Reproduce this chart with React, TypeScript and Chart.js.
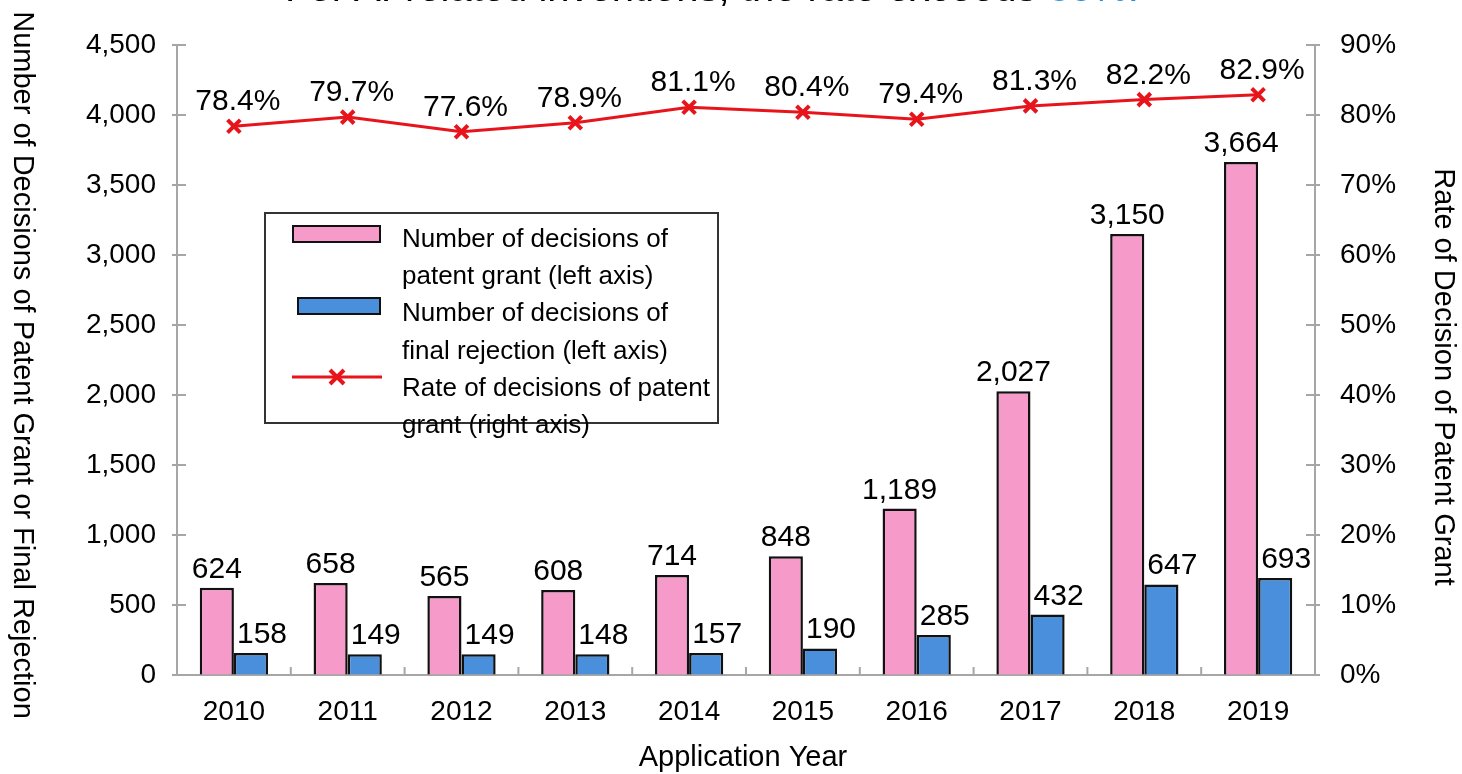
import React, { useEffect, useRef } from "react";
import { Chart, registerables } from "chart.js";

Chart.register(...registerables);

// ---------- data ----------
const years = ["2010", "2011", "2012", "2013", "2014", "2015", "2016", "2017", "2018", "2019"];
const grantCounts = [624, 658, 565, 608, 714, 848, 1189, 2027, 3150, 3664];
const rejectionCounts = [158, 149, 149, 148, 157, 190, 285, 432, 647, 693];
const grantRates = [78.4, 79.7, 77.6, 78.9, 81.1, 80.4, 79.4, 81.3, 82.2, 82.9];

const leftAxisRange = [0, 4500];
const leftAxisStep = 500;
const rightAxisRange = [0, 90];
const rightAxisStep = 10;

const legendGrant = ["Number of decisions of", "patent grant (left axis)"];
const legendRejection = ["Number of decisions of", "final rejection (left axis)"];
const legendRate = ["Rate of decisions of patent", "grant (right axis)"];

const titleMain = "For AI-related inventions, the rate exceeds ";
const titleHighlight = "80%.";
const leftAxisTitle = "Number of Decisions of Patent Grant or Final Rejection";
const rightAxisTitle = "Rate of Decision of Patent Grant";
const xAxisTitle = "Application Year";

// ---------- styles ----------
const FONT = '"Liberation Sans", Arial, Helvetica, sans-serif';
const PINK = "#f69ac9";
const BLUE = "#4a8fdc";
const RED = "#e8141c";
const AXIS_GRAY = "#a6a6a6";

const fmtCount = (v: number) => v.toLocaleString("en-US");

const drawCrossRot = (ctx: CanvasRenderingContext2D, x: number, y: number, r: number) => {
  ctx.beginPath();
  ctx.moveTo(x - r, y - r);
  ctx.lineTo(x + r, y + r);
  ctx.moveTo(x - r, y + r);
  ctx.lineTo(x + r, y - r);
  ctx.stroke();
};

const decorPlugin = {
  id: "decor",
  beforeDatasetsDraw(chart: any) {
    const { ctx, chartArea, scales } = chart;
    ctx.save();
    ctx.strokeStyle = AXIS_GRAY;
    ctx.lineWidth = 2;
    const y = scales.y;
    y.ticks.forEach((_t: any, i: number) => {
      const py = y.getPixelForTick(i);
      ctx.beginPath();
      ctx.moveTo(chartArea.left - 5, py);
      ctx.lineTo(chartArea.left + 9, py);
      ctx.stroke();
    });
    const y1 = scales.y1;
    y1.ticks.forEach((_t: any, i: number) => {
      const py = y1.getPixelForTick(i);
      ctx.beginPath();
      ctx.moveTo(chartArea.right - 9, py);
      ctx.lineTo(chartArea.right + 5, py);
      ctx.stroke();
    });
    const x = scales.x;
    for (let i = 0; i < years.length - 1; i++) {
      const px = (x.getPixelForTick(i) + x.getPixelForTick(i + 1)) / 2;
      ctx.beginPath();
      ctx.moveTo(px, chartArea.bottom);
      ctx.lineTo(px, chartArea.bottom - 8);
      ctx.stroke();
    }
    ctx.restore();
  },
  afterDatasetsDraw(chart: any) {
    const { ctx } = chart;
    ctx.save();
    ctx.fillStyle = "#000";
    ctx.textAlign = "center";
    ctx.textBaseline = "alphabetic";
    ctx.font = `30px ${FONT}`;
    chart.getDatasetMeta(0).data.forEach((el: any, i: number) => {
      ctx.fillText(grantRates[i].toFixed(1) + "%", el.x + 4, el.y - 16);
    });
    chart.getDatasetMeta(1).data.forEach((el: any, i: number) => {
      ctx.fillText(fmtCount(grantCounts[i]), el.x, el.y - 10);
    });
    chart.getDatasetMeta(2).data.forEach((el: any, i: number) => {
      ctx.fillText(fmtCount(rejectionCounts[i]), el.x + 11, el.y - 10);
    });
    ctx.restore();
  },
  afterDraw(chart: any) {
    const { ctx, chartArea, width } = chart;
    ctx.save();
    ctx.fillStyle = "#000";
    ctx.font = `29px ${FONT}`;
    ctx.textAlign = "center";
    ctx.textBaseline = "middle";
    ctx.save();
    ctx.translate(22, 365);
    ctx.rotate(Math.PI / 2);
    ctx.fillText(leftAxisTitle, 0, 0);
    ctx.restore();
    ctx.save();
    ctx.translate(width - 19, 377);
    ctx.rotate(Math.PI / 2);
    ctx.fillText(rightAxisTitle, 0, 0);
    ctx.restore();
    ctx.fillText(xAxisTitle, (chartArea.left + chartArea.right) / 2 - 3, 758);

    // legend
    const bx = chartArea.left + 88;
    const by = chartArea.top + 168;
    const bw = 453;
    const bh = 210;
    ctx.fillStyle = "#fff";
    ctx.fillRect(bx, by, bw, bh);
    ctx.strokeStyle = "#333";
    ctx.lineWidth = 2;
    ctx.strokeRect(bx, by, bw, bh);

    ctx.fillStyle = PINK;
    ctx.fillRect(bx + 28, by + 13, 87, 16);
    ctx.strokeStyle = "#111";
    ctx.strokeRect(bx + 28, by + 13, 87, 16);
    ctx.fillStyle = BLUE;
    ctx.fillRect(bx + 33, by + 85, 82, 16);
    ctx.strokeRect(bx + 33, by + 85, 82, 16);
    ctx.strokeStyle = RED;
    ctx.lineWidth = 3;
    ctx.beginPath();
    ctx.moveTo(bx + 27, by + 164);
    ctx.lineTo(bx + 117, by + 164);
    ctx.stroke();
    ctx.lineWidth = 4;
    drawCrossRot(ctx, bx + 72, by + 164, 7);

    const lines = [...legendGrant, ...legendRejection, ...legendRate];
    ctx.fillStyle = "#000";
    ctx.font = `26px ${FONT}`;
    ctx.textAlign = "left";
    ctx.textBaseline = "alphabetic";
    lines.forEach((t, i) => {
      ctx.fillText(t, bx + 137, by + 34 + i * 37.2);
    });
    ctx.restore();
  },
};

export default function App() {
  const canvasRef = useRef<HTMLCanvasElement>(null);

  useEffect(() => {
    const canvas = canvasRef.current;
    if (!canvas) return;
    const chart = new Chart(canvas, {
      type: "bar",
      data: {
        labels: years,
        datasets: [
          {
            type: "line",
            label: legendRate.join(" "),
            data: grantRates,
            yAxisID: "y1",
            borderColor: RED,
            backgroundColor: RED,
            borderWidth: 3,
            pointStyle: "crossRot",
            pointRadius: 9,
            pointBorderWidth: 4,
            pointBorderColor: RED,
            pointBackgroundColor: RED,
            tension: 0,
            order: 0,
          } as any,
          {
            type: "bar",
            label: legendGrant.join(" "),
            data: grantCounts,
            yAxisID: "y",
            backgroundColor: PINK,
            borderColor: "#111",
            borderWidth: 2.5,
            categoryPercentage: 0.6,
            barPercentage: 1,
            order: 1,
          },
          {
            type: "bar",
            label: legendRejection.join(" "),
            data: rejectionCounts,
            yAxisID: "y",
            backgroundColor: BLUE,
            borderColor: "#111",
            borderWidth: 2.5,
            categoryPercentage: 0.6,
            barPercentage: 1,
            order: 1,
          },
        ],
      },
      options: {
        responsive: false,
        animation: false,
        layout: { padding: { top: 45, left: 0, right: 0, bottom: 0 } },
        plugins: {
          legend: { display: false },
          tooltip: { enabled: false },
          title: { display: false },
        },
        scales: {
          x: {
            grid: { display: true, drawOnChartArea: false, drawTicks: false },
            border: { display: true, color: AXIS_GRAY, width: 2 },
            ticks: { color: "#000", font: { family: FONT, size: 28 }, padding: 20 },
            afterFit: (s: any) => {
              s.height = 99;
            },
          },
          y: {
            position: "left",
            min: leftAxisRange[0],
            max: leftAxisRange[1],
            grid: { display: true, drawOnChartArea: false, drawTicks: false },
            border: { display: true, color: AXIS_GRAY, width: 2 },
            ticks: {
              stepSize: leftAxisStep,
              color: "#000",
              font: { family: FONT, size: 28 },
              padding: 21,
              callback: (v: any) => fmtCount(Number(v)),
            },
            afterFit: (s: any) => {
              s.width = 177;
            },
          },
          y1: {
            position: "right",
            min: rightAxisRange[0],
            max: rightAxisRange[1],
            grid: { display: true, drawOnChartArea: false, drawTicks: false },
            border: { display: true, color: AXIS_GRAY, width: 2 },
            ticks: {
              stepSize: rightAxisStep,
              color: "#000",
              font: { family: FONT, size: 28 },
              padding: 25,
              callback: (v: any) => v + "%",
            },
            afterFit: (s: any) => {
              s.width = 147;
            },
          },
        },
      },
      plugins: [decorPlugin],
    });
    return () => chart.destroy();
  }, []);

  return (
    <div
      style={{
        position: "fixed",
        left: 0,
        top: 0,
        width: 1462,
        height: 774,
        overflow: "hidden",
        background: "#fff",
      }}
    >
      <canvas
        ref={canvasRef}
        width={1462}
        height={774}
        style={{ position: "absolute", left: 0, top: 0 }}
      />
      <div
        style={{
          position: "absolute",
          left: 285,
          top: -33,
          font: `40px ${FONT}`,
          lineHeight: "40px",
          whiteSpace: "nowrap",
          color: "#000",
        }}
      >
        {titleMain}
        <span style={{ color: "#1f8ee0" }}>{titleHighlight}</span>
      </div>
    </div>
  );
}
